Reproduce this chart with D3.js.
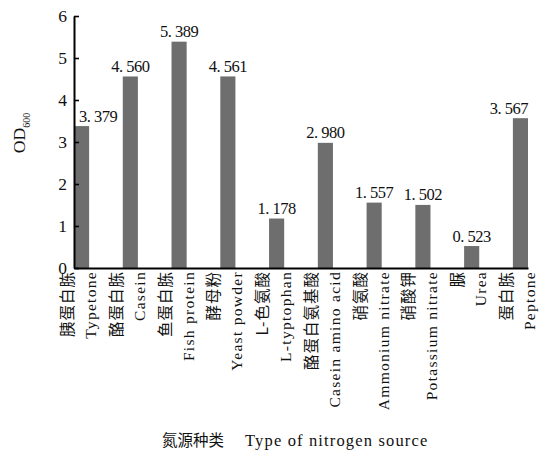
<!DOCTYPE html>
<html>
<head>
<meta charset="utf-8">
<script src="https://cdn.jsdelivr.net/npm/d3@7"></script>
<style>
  html, body { margin: 0; padding: 0; background: #fff; }
  svg { display: block; }
</style>
</head>
<body>
<svg id="chart" width="549" height="453"></svg>
<script>
const categoriesZh = ["胰蛋白胨", "酪蛋白胨", "鱼蛋白胨", "酵母粉", "L-色氨酸", "酪蛋白氨基酸", "硝氨酸", "硝酸钾", "脲", "蛋白胨"];
const categoriesEn = ["Typetone", "Casein", "Fish protein", "Yeast powder", "L-typtophan", "Casein amino acid", "Ammonium nitrate", "Potassium nitrate", "Urea", "Peptone"];
const values = [3.379, 4.560, 5.389, 4.561, 1.178, 2.980, 1.557, 1.502, 0.523, 3.567];
const yTicks = [0, 1, 2, 3, 4, 5, 6];
const yTitle = "OD";
const yTitleSub = "600";
const xTitleZh = "氮源种类";
const xTitleEn = "Type of nitrogen source";

const serif = "'Liberation Serif', Tinos, serif";
const cjk = "'Noto Sans CJK SC', sans-serif";

const svg = d3.select("#chart");
const m = { left: 74, right: 528, top: 16, bottom: 268 };

const x = d3.scaleBand()
  .domain(d3.range(values.length))
  .range([m.left, m.right])
  .paddingInner(0.69)
  .paddingOuter(0);

const y = d3.scaleLinear().domain([0, 6]).range([m.bottom, m.top]);

// bars
svg.append("g").selectAll("rect")
  .data(values)
  .join("rect")
  .attr("x", (d, i) => x(i))
  .attr("y", d => y(d))
  .attr("width", x.bandwidth())
  .attr("height", d => y(0) - y(d))
  .attr("fill", "#6e6e6e");

// value labels
const fmt = d => d3.format(".3f")(d).replace(".", ". ");
const vl = svg.append("g").selectAll("text")
  .data(values)
  .join("text")
  .attr("y", d => y(d) - 4.5)
  .attr("text-anchor", "middle")
  .style("font-family", serif)
  .attr("font-size", 16.5)
  .attr("letter-spacing", "-0.5px")
  .attr("fill", "#111")
  .text(fmt);
vl.each(function(d, i) {
  const w = this.getComputedTextLength();
  let cx = x(i) + x.bandwidth() / 2;
  cx = Math.max(cx, m.left + 5 + w / 2);
  cx = Math.min(cx, m.right - w / 2);
  d3.select(this).attr("x", cx);
});

// y axis
const yAxis = svg.append("g")
  .attr("transform", `translate(${m.left},0)`)
  .call(d3.axisLeft(y).tickValues(yTicks).tickFormat(d3.format("d"))
    .tickSize(-5).tickSizeOuter(0).tickPadding(7));
yAxis.select(".domain").attr("stroke", "#000").attr("stroke-width", 2);
yAxis.selectAll(".tick line").attr("stroke", "#000").attr("stroke-width", 1.6);
yAxis.selectAll(".tick text")
  .style("font-family", serif)
  .attr("font-size", 17.5)
  .attr("fill", "#111");

// x axis line
const xAxis = svg.append("g")
  .attr("transform", `translate(0,${m.bottom})`)
  .call(d3.axisBottom(x).tickSize(0).tickFormat(""));
xAxis.select(".domain").attr("stroke", "#000").attr("stroke-width", 2);

// x category labels (rotated, reading bottom to top)
const lab = svg.append("g").selectAll("g")
  .data(d3.range(values.length))
  .join("g")
  .attr("transform", i => `translate(${x(i) + x.bandwidth() / 2},${m.bottom + 3}) rotate(-90)`);
lab.append("text")
  .attr("x", 0)
  .attr("y", -14)
  .attr("dy", "0.35em")
  .attr("text-anchor", "end")
  .style("font-family", cjk)
  .attr("font-size", 15.5)
  .attr("letter-spacing", "1px")
  .attr("fill", "#111")
  .text(i => categoriesZh[i]);
lab.append("text")
  .attr("x", 0)
  .attr("y", 9)
  .attr("dy", "0.35em")
  .attr("text-anchor", "end")
  .style("font-family", serif)
  .attr("font-size", 15.5)
  .attr("letter-spacing", "1.3px")
  .attr("fill", "#111")
  .text(i => categoriesEn[i]);

// y title
const yt = svg.append("text")
  .attr("transform", "translate(25,133) rotate(-90)")
  .attr("text-anchor", "middle")
  .style("font-family", serif)
  .attr("font-size", 17.5)
  .attr("fill", "#111");
yt.append("tspan").text(yTitle);
yt.append("tspan").attr("font-size", 10).attr("dy", 5).text(yTitleSub);

// x title
const xt = svg.append("text")
  .attr("y", 446)
  .attr("fill", "#111");
xt.append("tspan").attr("x", 162).style("font-family", cjk).attr("font-size", 15.5).text(xTitleZh);
xt.append("tspan").attr("x", 245).style("font-family", serif).attr("font-size", 16.5).attr("letter-spacing", "1.15px").text(xTitleEn);
</script>
</body>
</html>
